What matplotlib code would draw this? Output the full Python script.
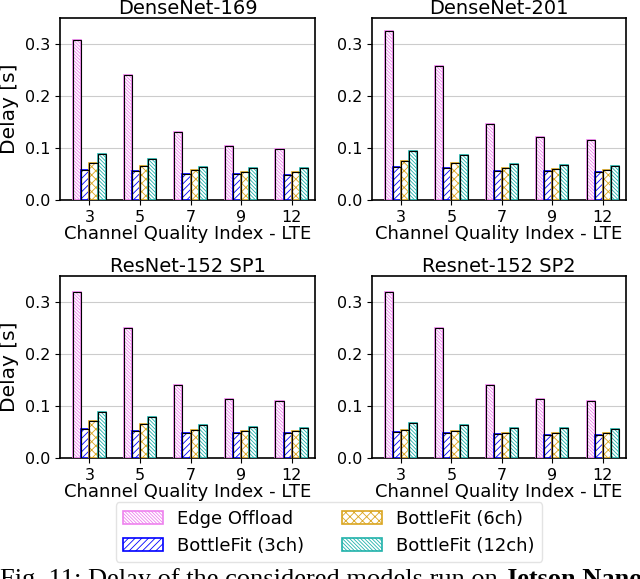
import numpy as np
import matplotlib.pyplot as plt

# Valori (ritardo in secondi)
cqi = ["3", "5", "7", "9", "12"]
titoli = ["DenseNet-169", "DenseNet-201", "ResNet-152 SP1", "Resnet-152 SP2"]
serie = ["Edge Offload", "BottleFit (3ch)", "BottleFit (6ch)", "BottleFit (12ch)"]

densenet169 = [
    [0.308, 0.240, 0.130, 0.103, 0.098],
    [0.058, 0.055, 0.050, 0.050, 0.048],
    [0.072, 0.066, 0.057, 0.054, 0.054],
    [0.089, 0.079, 0.064, 0.061, 0.061],
]
densenet201 = [
    [0.326, 0.257, 0.147, 0.121, 0.115],
    [0.063, 0.061, 0.055, 0.055, 0.054],
    [0.076, 0.071, 0.061, 0.059, 0.058],
    [0.095, 0.086, 0.070, 0.068, 0.066],
]
resnet152_sp1 = [
    [0.319, 0.250, 0.140, 0.113, 0.109],
    [0.057, 0.053, 0.048, 0.048, 0.048],
    [0.071, 0.065, 0.055, 0.053, 0.052],
    [0.088, 0.079, 0.064, 0.060, 0.059],
]
resnet152_sp2 = [
    [0.319, 0.250, 0.140, 0.113, 0.109],
    [0.050, 0.048, 0.046, 0.045, 0.045],
    [0.055, 0.052, 0.048, 0.048, 0.048],
    [0.067, 0.064, 0.058, 0.058, 0.057],
]
dati = [densenet169, densenet201, resnet152_sp1, resnet152_sp2]

colori = ["violet", "blue", "goldenrod", "lightseagreen"]
tratteggi = ["\\" * 10, "/" * 5, "xxxx", "\\" * 9]

plt.rcParams['hatch.linewidth'] = 0.6

fig = plt.figure(figsize=(6.4, 5.79), dpi=100)
posizioni = [
    [0.094, 0.6546, 0.398, 0.314],
    [0.581, 0.6546, 0.397, 0.314],
    [0.094, 0.2085, 0.398, 0.315],
    [0.581, 0.2085, 0.397, 0.315],
]

x = np.arange(len(cqi))
w = 0.16
maniglie = []
for k in range(4):
    ax = fig.add_axes(posizioni[k])
    for i in range(4):
        off = (i - 1.5) * w
        b = ax.bar(x + off, dati[k][i], w, color="white", edgecolor=colori[i],
                   hatch=tratteggi[i], linewidth=1.2, label=serie[i], zorder=3)
        ax.bar(x + off, dati[k][i], w, fill=False, edgecolor="black",
               linewidth=0.8, zorder=4)
        if k == 0:
            maniglie.append(b)
    ax.set_xticks(x)
    ax.set_xticklabels(cqi, fontsize=11.5)
    ax.set_xlim(-0.58, 4.46)
    ax.set_ylim(0, 0.35)
    ax.set_yticks([0.0, 0.1, 0.2, 0.3])
    ax.set_yticklabels(["0.0", "0.1", "0.2", "0.3"], fontsize=11.5)
    ax.yaxis.grid(True, color="#cccccc", linewidth=0.8, zorder=0)
    ax.set_title(titoli[k], fontsize=14, pad=3)
    ax.set_xlabel("Channel Quality Index - LTE", fontsize=13, labelpad=0)
    if k % 2 == 0:
        ax.set_ylabel("Delay [s]", fontsize=14.5, labelpad=4)
    for s in ax.spines.values():
        s.set_linewidth(1.2)

fig.legend(maniglie, serie, loc="center", bbox_to_anchor=(0.514, 0.081),
           ncol=2, fontsize=13, frameon=True, handlelength=2.2,
           columnspacing=2.1, handletextpad=0.8, borderpad=0.4, labelspacing=0.5,
           edgecolor="#dddddd")

# didascalia (tagliata in basso come nell'originale)
t1 = fig.text(0.0, 0.019, "Fig. 11: Delay of the considered models run on ",
              fontsize=19, family="Liberation Serif", va="top", ha="left")
fig.canvas.draw()
bb = t1.get_window_extent()
fig.text(bb.x1 / fig.bbox.width, 0.019, "Jetson Nano", fontsize=19,
         family="Liberation Serif", weight="bold", va="top", ha="left")

plt.savefig("out.png", dpi=100)
